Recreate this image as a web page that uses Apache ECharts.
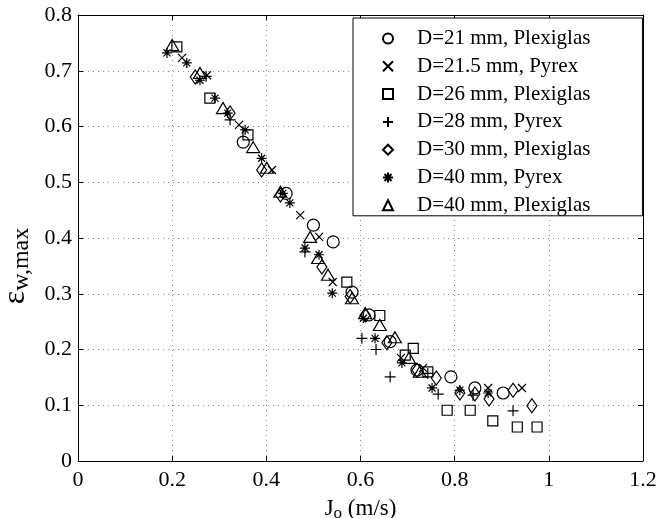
<!DOCTYPE html>
<html><head><meta charset="utf-8">
<script src="https://cdn.jsdelivr.net/npm/echarts@6/dist/echarts.min.js"></script>
<style>html,body{margin:0;padding:0;background:#fff}#c{width:667px;height:518px}</style>
</head><body><div id="c"></div>
<script>
const seriesNames = ['D=21 mm, Plexiglas','D=21.5 mm, Pyrex','D=26 mm, Plexiglas','D=28 mm, Pyrex','D=30 mm, Plexiglas','D=40 mm, Pyrex','D=40 mm, Plexiglas'];
const xTicks = [0,0.2,0.4,0.6,0.8,1,1.2];
const yTicks = [0,0.1,0.2,0.3,0.4,0.5,0.6,0.7,0.8];
const d21 = [[0.351,0.572],[0.442,0.48],[0.50,0.423],[0.542,0.393],[0.582,0.303],[0.618,0.262],[0.663,0.214],[0.72,0.163],[0.792,0.151],[0.843,0.131],[0.903,0.122]];
const d215 = [[0.221,0.723],[0.274,0.692],[0.342,0.603],[0.412,0.522],[0.472,0.441],[0.512,0.402],[0.541,0.321],[0.686,0.185],[0.733,0.167],[0.871,0.131],[0.943,0.131]];
const d26 = [[0.21,0.743],[0.28,0.651],[0.361,0.585],[0.571,0.321],[0.641,0.261],[0.695,0.19],[0.712,0.202],[0.743,0.16],[0.784,0.091],[0.833,0.091],[0.881,0.072],[0.933,0.061],[0.975,0.061]];
const d28 = [[0.272,0.69],[0.323,0.612],[0.482,0.375],[0.603,0.22],[0.633,0.20],[0.663,0.151],[0.743,0.157],[0.765,0.12],[0.839,0.118],[0.924,0.09]];
const d30 = [[0.249,0.689],[0.323,0.624],[0.39,0.522],[0.43,0.477],[0.518,0.348],[0.578,0.295],[0.61,0.262],[0.656,0.212],[0.72,0.163],[0.761,0.149],[0.811,0.122],[0.843,0.12],[0.873,0.111],[0.924,0.127],[0.964,0.099]];
const d40py = [[0.189,0.732],[0.231,0.714],[0.259,0.683],[0.291,0.651],[0.318,0.624],[0.355,0.594],[0.39,0.543],[0.435,0.48],[0.45,0.463],[0.482,0.382],[0.512,0.37],[0.54,0.301],[0.606,0.256],[0.631,0.22],[0.688,0.176],[0.752,0.131],[0.811,0.127],[0.871,0.122]];
const d40pl = [[0.20,0.746],[0.259,0.696],[0.308,0.633],[0.372,0.563],[0.401,0.526],[0.43,0.483],[0.493,0.402],[0.51,0.364],[0.531,0.334],[0.582,0.292],[0.61,0.265],[0.641,0.244],[0.673,0.222],[0.703,0.185],[0.726,0.16]];
const allData = [d21,d215,d26,d28,d30,d40py,d40pl];

const symbols = ['circle','path://M0,0L10,10M10,0L0,10','rect','path://M5,0L5,10M0,5L10,5','diamond','path://M5,0L5,10M0,5L10,5M1.5,1.5L8.5,8.5M8.5,1.5L1.5,8.5','triangle'];
const sizes = [12,8,10,11,[10,14],10,[13,11]];
const font = "'Liberation Serif', 'Times New Roman', serif";

const chart = echarts.init(document.getElementById('c'));
const series = allData.map((d,i)=>({
  name: seriesNames[i], type:'scatter', data:d, symbol:symbols[i], symbolSize:sizes[i],
  itemStyle:{color:'rgba(0,0,0,0)', borderColor:'#000', borderWidth:1.2, opacity:1},
  emphasis:{disabled:true}, animation:false
}));
const axisCommon = {
  axisLine:{show:true,onZero:false,lineStyle:{color:'#000',width:1}},
  axisTick:{show:true,inside:true,length:5,lineStyle:{color:'#000'}},
};
chart.setOption({
  animation:false,
  grid:{left:78,top:15,right:24,bottom:57,containLabel:false,outerBoundsMode:'none'},
  legend:{
    orient:'vertical', left:353, top:18,
    backgroundColor:'#fff', borderColor:'#000', borderWidth:1,
    padding:[10,52,0,29], itemGap:6.8, itemWidth:10, itemHeight:10,
    textStyle:{fontFamily:font,fontSize:21,color:'#000',padding:[0,0,0,19]},
    data:seriesNames
  },
  xAxis:[{
    type:'value', min:0, max:1.2, interval:0.2, ...axisCommon,
    axisLabel:{fontFamily:font,fontSize:22,color:'#000',margin:8,formatter:v=>String(+v.toFixed(1))},
    splitLine:{show:true,lineStyle:{color:'#888',type:[1,4],width:1}},
    name:'{j|J}{s|o}{j| (m/s)}', nameLocation:'middle', nameGap:34,
    nameTextStyle:{rich:{j:{fontFamily:font,fontSize:23,color:'#000'},s:{fontFamily:font,fontSize:17,color:'#000',verticalAlign:'bottom',padding:[10,0,0,0]}}}
  },{
    type:'value', position:'top', min:0, max:1.2, interval:0.2, ...axisCommon,
    axisLabel:{show:false}, splitLine:{show:false}
  }],
  yAxis:[{
    type:'value', min:0, max:0.8, interval:0.1, ...axisCommon,
    axisLabel:{fontFamily:font,fontSize:22,color:'#000',margin:6,formatter:v=>String(+v.toFixed(1))},
    splitLine:{show:true,lineStyle:{color:'#888',type:[1,4],width:1}},
    name:'{e|ε}{s|w,max}', nameLocation:'middle', nameGap:30, nameRotate:90,
    nameTextStyle:{padding:[0,56,0,0],rich:{e:{fontFamily:font,fontSize:32,color:'#000'},s:{fontFamily:font,fontSize:24,color:'#000',padding:[12,0,0,0]}}}
  },{
    type:'value', position:'right', min:0, max:0.8, interval:0.1, ...axisCommon,
    axisLabel:{show:false}, splitLine:{show:false}
  }],
  series: series
});
</script></body></html>
